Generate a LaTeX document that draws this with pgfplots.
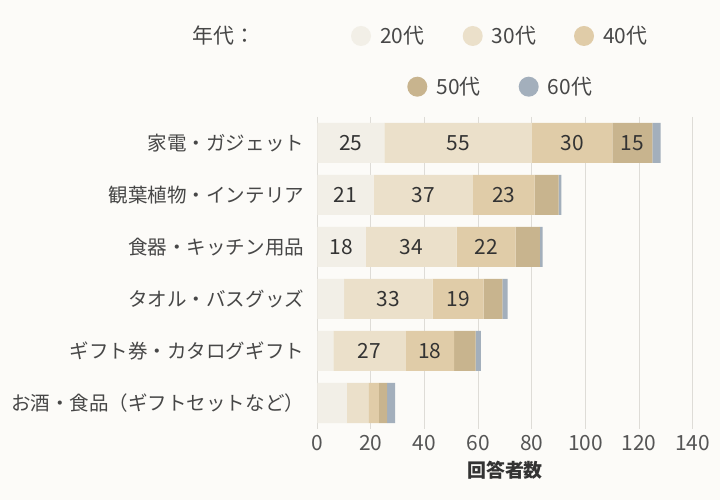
\documentclass[border=0pt]{standalone}
\usepackage{fontspec}
\setmainfont{Noto Sans CJK JP}
\usepackage{pgfplots}
\usepackage{pgfplotstable}
\pgfplotsset{compat=1.18}
\definecolor{bg}{HTML}{FCFBF8}
\definecolor{c20}{HTML}{F2EFE7}
\definecolor{c30}{HTML}{EBE0CA}
\definecolor{c40}{HTML}{E0CCA8}
\definecolor{c50}{HTML}{C8B48E}
\definecolor{c60}{HTML}{A3AFBC}
\definecolor{gridc}{HTML}{DEDCD7}
\definecolor{txt}{HTML}{333333}
\definecolor{lbl}{HTML}{474747}
\definecolor{tickc}{HTML}{555555}

\pgfplotsset{
  segl/.style={visualization depends on={\thisrow{#1}\as\segval}},
}

\pgfplotstableread{
idx a20 a30 a40 a50 a60
0 25 55 30 15 3
1 21 37 23 9 1
2 18 34 22 9 1
3 10 33 19 7 2
4 6 27 18 8 2
5 11 8 4 3 3
}\data

\begin{document}
\begin{tikzpicture}[x=1bp,y=1bp]
\fill[bg] (0,0) rectangle (720,500);
\begin{axis}[
  at={(317.3bp,71bp)}, anchor=south west,
  scale only axis, width=375.4bp, height=312bp,
  xbar stacked, bar width=40bp,
  xmin=0, xmax=140, ymin=-0.5, ymax=5.5, y dir=reverse,
  ytick={0,...,5},
  yticklabels={家電・ガジェット, 観葉植物・インテリア, 食器・キッチン用品, タオル・バスグッズ, ギフト券・カタログギフト, お酒・食品（ギフトセットなど）},
  xtick={0,20,...,140},
  axis line style={draw=none},
  major tick length=0pt,
  xmajorgrids, ymajorgrids=false,
  grid style={gridc, line width=1bp},
  /pgf/number format/assume math mode=true,
  xticklabel style={anchor=center, yshift=-14bp, font=\fontsize{21}{24}\selectfont, text=tickc},
  yticklabel style={anchor=east, inner sep=0pt, xshift=-13bp, font=\fontsize{19.6}{23}\selectfont, text=lbl},
  xlabel={\bfseries 回答者数},
  xlabel style={at={(axis description cs:0.5,0)}, anchor=center, yshift=-41bp, font=\fontsize{19}{22}\selectfont, text=txt},
  nodes near coords={\ifdim\segval pt<14pt\relax\else\pgfmathprintnumber[assume math mode=true]{\segval}\fi},
  every node near coord/.append style={anchor=center, font=\fontsize{21}{24}\selectfont, text=txt},
]
\addplot[fill=c20, draw=none, segl=a20] table[x=a20, y=idx]{\data};
\addplot[fill=c30, draw=none, segl=a30] table[x=a30, y=idx]{\data};
\addplot[fill=c40, draw=none, segl=a40] table[x=a40, y=idx]{\data};
\addplot[fill=c50, draw=none, segl=a50] table[x=a50, y=idx]{\data};
\addplot[fill=c60, draw=none, segl=a60] table[x=a60, y=idx]{\data};
\end{axis}
% legend
\begin{scope}[every node/.style={inner sep=0pt, anchor=west, text=lbl, font=\fontsize{21}{24}\selectfont}]
\node at (192,464) {年代：};
\fill[c20] (361,464) circle (10);  \node at (380,464) {20代};
\fill[c30] (472.7,464) circle (10);\node at (491.7,464) {30代};
\fill[c40] (584,464) circle (10);  \node at (603,464) {40代};
\fill[c50] (417.3,413.3) circle (10);\node at (436.3,413.3) {50代};
\fill[c60] (528.7,413.3) circle (10);\node at (547.7,413.3) {60代};
\end{scope}
\end{tikzpicture}
\end{document}
